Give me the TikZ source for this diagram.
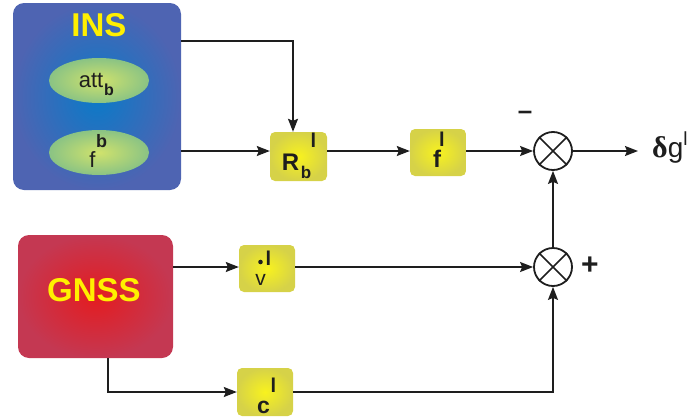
\documentclass[tikz,border=0pt]{standalone}
\usepackage{fontspec}
\setmainfont{Liberation Sans}
\newfontfamily\seriffont{Liberation Serif}
\usetikzlibrary{arrows.meta,shapes.geometric}

\definecolor{insOut}{RGB}{78,100,178}
\definecolor{insIn}{RGB}{10,122,200}
\definecolor{gnssOut}{RGB}{196,56,82}
\definecolor{gnssIn}{RGB}{228,28,32}
\definecolor{blkOut}{RGB}{214,210,72}
\definecolor{blkIn}{RGB}{248,242,30}
\definecolor{ellOut}{RGB}{138,195,132}
\definecolor{ellIn}{RGB}{208,226,108}
\definecolor{titleYellow}{RGB}{255,240,0}
\definecolor{ink}{RGB}{30,30,30}

\newcommand{\fs}[1]{\fontsize{#1}{#1}\selectfont}

\tikzset{
  sensor/.style={rectangle, rounded corners=11pt, inner sep=0pt, shading=radial},
  blk/.style={rectangle, rounded corners=5pt, inner sep=0pt,
              minimum width=56pt, minimum height=48pt,
              shading=radial, inner color=blkIn, outer color=blkOut},
  ell/.style={ellipse, inner sep=0pt, minimum width=100pt, minimum height=45pt,
              shading=radial, inner color=ellIn, outer color=ellOut},
  summer/.style={circle, draw=ink, line width=1.8pt, minimum size=38pt, inner sep=0pt},
  wire/.style={draw=ink, line width=1.5pt},
  arr/.style={wire, -{Stealth[length=13pt,width=10pt,inset=2pt]}},
  title/.style={text=titleYellow, font=\fs{33}\bfseries},
  txt/.style={text=ink, inner sep=0pt, anchor=base},
}

\begin{document}
\begin{tikzpicture}[x=1pt,y=-1pt]
\useasboundingbox (0,0) rectangle (697,418);

% sensor blocks
\node[sensor, inner color=insIn, outer color=insOut,
      minimum width=168pt, minimum height=187pt] (ins) at (97,96.5) {};
\node[title] (insT) at (99,25) {INS};
\node[sensor, inner color=gnssIn, outer color=gnssOut,
      minimum width=155pt, minimum height=123pt] (gnss) at (95.5,296.5) {};
\node[title] (gnssT) at (94,290) {GNSS};

% quantities inside the INS block
\node[ell] (att) at (99,80.5) {};
\node[txt, anchor=base east] (attT) at (103.5,87) {\fs{22}att};
\node[txt, anchor=base west] (attS) at (104,95) {\fs{16}\bfseries b};
\node[ell] (fb) at (99,152.5) {};
\node[txt] (fbT) at (92.5,167) {\fs{22}f};
\node[txt] (fbS) at (101.5,147) {\fs{18}\bfseries b};

% processing blocks
\node[blk, minimum width=57pt, minimum height=49pt] (R) at (298.5,156.5) {};
\node[txt] (RT) at (290.5,170) {\fs{24}\bfseries R};
\node[txt] (RS) at (306,178) {\fs{17}\bfseries b};
\node[txt] (RL) at (313.5,147) {\fs{20}\bfseries l};

\node[blk, minimum height=47pt] (f) at (438,152.5) {};
\node[txt] (fT) at (437,167) {\fs{24}\bfseries f};
\node[txt] (fL) at (442,146) {\fs{20}\bfseries l};

\node[blk, minimum height=47pt] (v) at (267,268.5) {};
\fill[ink] (260.5,262) circle (2.3pt);
\node[txt] (vT) at (260.5,285) {\fs{21}v};
\node[txt] (vL) at (268.5,265) {\fs{20}\bfseries l};

\node[blk] (c) at (265,392) {};
\node[txt] (cT) at (263.5,413) {\fs{23}\bfseries c};
\node[txt] (cL) at (273.5,392) {\fs{20}\bfseries l};

% summing junctions
\node[summer] (s1) at (553,151) {};
\node[summer] (s2) at (553,267) {};
\foreach \s in {s1,s2} {
  \draw[ink, line width=1.6pt] (\s.north east) -- (\s.south west)
                               (\s.north west) -- (\s.south east);
}
\node[txt, anchor=center] (minus) at (525,115) {\fs{26}\bfseries –};
\node[txt, anchor=center] (plus) at (590,266) {\fs{30}\bfseries +};

% output
\node[txt, anchor=base west] (out) at (652,157)
  {{\seriffont\bfseries\fs{30}δ}\fs{28}g\raisebox{12pt}{\fs{19}l}};

% connectors
\coordinate (tapA) at (293,41);
\coordinate (rowA) at (268,151);
\draw[arr] (ins.east |- tapA) -- (tapA) -- (tapA |- R.north);
\draw[arr] (ins.east |- rowA) -- (R.west |- rowA);
\draw[arr] (R.east |- rowA) -- (f.west |- rowA);
\draw[arr] (f.east |- s1) -- (s1.west);
\draw[arr] (s1.east) -- ([xshift=-14pt]out.west |- s1);
\draw[arr] (s2.north) -- (s1.south);

\draw[arr] (gnss.east |- s2) -- (v.west |- s2);
\draw[arr] (v.east |- s2) -- (s2.west);
\coordinate (tapB) at (108,392);
\draw[arr] (gnss.south -| tapB) -- (tapB) -- (c.west);
\draw[arr] (c.east) -- (c.east -| s2) -- (s2.south);
\end{tikzpicture}
\end{document}
